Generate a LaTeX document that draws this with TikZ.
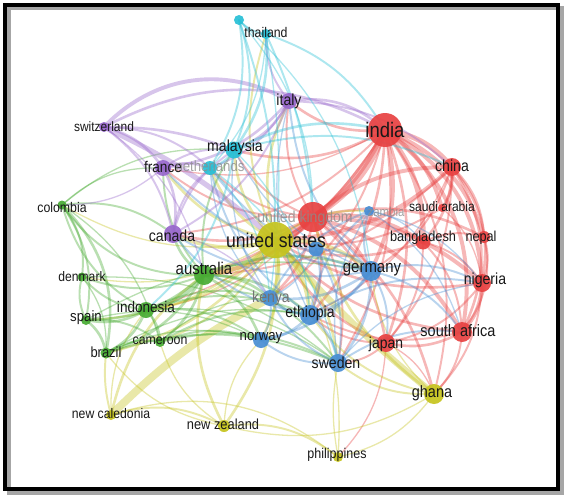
\documentclass[tikz,border=0pt]{standalone}
\usepackage{fontspec}
\newfontfamily\labf[FakeStretch=0.88]{Liberation Sans}
\definecolor{cR}{RGB}{232,66,66}
\definecolor{cG}{RGB}{72,172,52}
\definecolor{cB}{RGB}{72,142,212}
\definecolor{cY}{RGB}{198,196,30}
\definecolor{cP}{RGB}{152,104,204}
\definecolor{cC}{RGB}{40,192,214}
\pgfdeclarelayer{bgl}
\pgfdeclarelayer{edges}
\pgfsetlayers{bgl,edges,main}
\tikzset{
  vn/.style={circle, fill=#1, draw=none, inner sep=0pt, fill opacity=0.92},
  lab/.style={font=\labf\fontsize{#1}{#1}\selectfont, text=black!90, inner sep=0pt},
  faded/.style={text=black!45, text opacity=0.8},
  lnk/.style={draw=#1, draw opacity=0.38, line cap=round},
}
\begin{document}
\begin{tikzpicture}[x=1pt,y=1pt]
\useasboundingbox (0,0) rectangle (569,-500);
\begin{pgfonlayer}{bgl}
\fill[white] (0,0) rectangle (569,-500);
\draw[black!35, line width=4pt] (8.5,-8.5) rectangle (561.5,-492.5);
\draw[black, line width=4pt] (5,-5) rectangle (558,-489);
\end{pgfonlayer}
% nodes
\node[vn=cC, minimum size=10pt] (th2) at (239,-20) {};
\node[vn=cC, minimum size=10pt] (thailand) at (266,-34) {};
\node[vn=cP, minimum size=16pt] (italy) at (289,-101) {};
\node[vn=cR, minimum size=34pt] (india) at (385,-130) {};
\node[vn=cP, minimum size=10pt] (switzerland) at (104,-127) {};
\node[vn=cC, minimum size=17pt] (malaysia) at (234,-150) {};
\node[vn=cR, minimum size=18pt] (china) at (452,-167) {};
\node[vn=cP, minimum size=16pt] (france) at (163,-168) {};
\node[vn=cC, minimum size=14pt] (netherlands) at (210,-168) {};
\node[vn=cG, minimum size=9pt] (colombia) at (62,-205) {};
\node[vn=cR, minimum size=8pt] (saudiarabia) at (442,-208) {};
\node[vn=cR, minimum size=30pt] (uk) at (313,-217) {};
\node[vn=cB, minimum size=10pt] (zambia) at (369,-211) {};
\node[vn=cP, minimum size=18pt] (canada) at (173,-234) {};
\node[vn=cY, minimum size=36pt] (us) at (275,-240) {};
\node[vn=cR, minimum size=15pt] (bangladesh) at (423,-242) {};
\node[vn=cR, minimum size=12pt] (nepal) at (484,-237) {};
\node[vn=cB, minimum size=15pt] (bluex) at (316,-249) {};
\node[vn=cG, minimum size=20pt] (australia) at (204,-275) {};
\node[vn=cB, minimum size=20pt] (germany) at (371,-271) {};
\node[vn=cG, minimum size=9pt] (denmark) at (82,-277) {};
\node[vn=cR, minimum size=18pt] (nigeria) at (482,-283) {};
\node[vn=cB, minimum size=16pt] (kenya) at (270,-298) {};
\node[vn=cG, minimum size=16pt] (indonesia) at (146,-310) {};
\node[vn=cB, minimum size=20pt] (ethiopia) at (310,-315) {};
\node[vn=cG, minimum size=10pt] (spain) at (86,-320) {};
\node[vn=cR, minimum size=20pt] (southafrica) at (462,-332) {};
\node[vn=cB, minimum size=16pt] (norway) at (261,-340) {};
\node[vn=cG, minimum size=10pt] (cameroon) at (160,-342) {};
\node[vn=cR, minimum size=18pt] (japan) at (386,-343) {};
\node[vn=cG, minimum size=11pt] (brazil) at (106,-353) {};
\node[vn=cB, minimum size=18pt] (sweden) at (338,-363) {};
\node[vn=cY, minimum size=20pt] (ghana) at (434,-394) {};
\node[vn=cY, minimum size=10pt] (newcaledonia) at (111,-415) {};
\node[vn=cY, minimum size=12pt] (newzealand) at (224,-426) {};
\node[vn=cY, minimum size=10pt] (philippines) at (338,-457) {};
% edges
\begin{pgfonlayer}{edges}
\foreach \s/\t/\w/\b in {india/uk/5/18, india/us/4/18, india/china/4/20, india/bangladesh/4/20, india/nepal/3/25, india/saudiarabia/3/20, india/nigeria/3/30, india/southafrica/3/32, india/japan/2/20, india/germany/3/20, india/ethiopia/2/20, india/australia/2/20, india/malaysia/2/22, india/italy/2/22, india/sweden/1.5/20, india/canada/1.5/20, india/kenya/1.5/20, india/ghana/1.5/25, india/france/1/20, india/indonesia/1/20,
uk/china/3/20, uk/bangladesh/3/20, uk/nigeria/3/20, uk/southafrica/3/22, uk/us/4/20, uk/australia/3/20, uk/germany/2/20, uk/ethiopia/2/20, uk/japan/2/20, uk/nepal/2/20, uk/kenya/2/20, uk/canada/2/20, uk/ghana/2/20, uk/sweden/1.5/20, uk/netherlands/1.5/20, uk/malaysia/1.5/20, uk/italy/1.5/20, uk/france/1.5/20, uk/indonesia/1/20,
china/us/3/20, china/bangladesh/2/20, china/nigeria/2/25, china/southafrica/2/30, china/saudiarabia/2/20, china/nepal/2/20, china/japan/1.5/20, china/germany/1.5/20, china/australia/1.5/20, china/ethiopia/1/20,
bangladesh/us/2/20, bangladesh/nepal/1.5/20, bangladesh/nigeria/1.5/20, bangladesh/southafrica/1.5/20, bangladesh/japan/1.5/20, saudiarabia/nigeria/1/20, saudiarabia/us/1.5/20, nepal/nigeria/1.5/20, nepal/southafrica/1.5/25, nigeria/southafrica/3/20, nigeria/us/2/20, nigeria/japan/1.5/20, nigeria/ghana/1.5/20, southafrica/us/2/20, southafrica/japan/2/20, southafrica/ghana/1.5/20, southafrica/ethiopia/1.5/20, japan/us/2/20, japan/ethiopia/1.5/20, japan/sweden/1.5/20, japan/philippines/1/20, japan/ghana/1/20}
  \draw[lnk=cR, line width=\w*1.3pt] (\s.center) to[bend left=\b] (\t.center);
\foreach \s/\t/\w/\b in {us/australia/4/20, us/canada/3/20, us/germany/3/20, us/ethiopia/3/20, us/kenya/2/20, us/malaysia/2/20, us/netherlands/2/20, us/france/2/20, us/italy/2/20, us/norway/2/20, us/sweden/2/20, us/indonesia/2/20, us/brazil/2/20, us/newzealand/2/20, us/thailand/1.5/20, us/spain/1.5/20, us/denmark/1/20, us/colombia/1/20, us/cameroon/1.5/20, us/philippines/1/20, us/zambia/1.5/20,
ghana/us/5/5, ghana/uk/2/20, ghana/sweden/1.5/20, ghana/philippines/1/20, ghana/ethiopia/1.5/20, ghana/germany/1/20, ghana/newzealand/1/22,
newcaledonia/kenya/6/8, newcaledonia/australia/2/20, newcaledonia/brazil/1.5/10, newcaledonia/newzealand/1.5/22, newcaledonia/indonesia/1/20, newcaledonia/philippines/1/28,
newzealand/australia/2/20, newzealand/norway/1/20, newzealand/philippines/1.5/22, newzealand/cameroon/1/20, newzealand/brazil/1/20, philippines/sweden/1/10}
  \draw[lnk=cY, line width=\w*1.3pt] (\s.center) to[bend left=\b] (\t.center);
\foreach \s/\t/\w/\b in {australia/canada/2/20, australia/indonesia/3/20, australia/brazil/2/20, australia/spain/2/20, australia/denmark/1.5/20, australia/colombia/1.5/28, australia/cameroon/2/20, australia/germany/2/20, australia/ethiopia/2/20, australia/kenya/2/20, australia/norway/2/20, australia/sweden/1.5/20, australia/malaysia/1.5/20, australia/france/1.5/20,
indonesia/brazil/2/20, indonesia/spain/2/20, indonesia/cameroon/2/20, indonesia/denmark/1.5/20, indonesia/colombia/1.5/22, indonesia/ethiopia/1.5/20, indonesia/kenya/1.5/20, indonesia/norway/1.5/20, indonesia/sweden/1/20,
colombia/brazil/2/28, colombia/spain/1.5/22, colombia/denmark/1.5/22, colombia/canada/1.5/22, colombia/cameroon/1/20, colombia/france/1/22, colombia/malaysia/1/22,
spain/brazil/2/20, spain/denmark/1.5/20, spain/cameroon/1.5/20, spain/germany/1/20, spain/norway/1/20, brazil/cameroon/1.5/20, brazil/sweden/1.5/20, brazil/ethiopia/1/20, brazil/norway/1/20,
denmark/brazil/1/20, denmark/sweden/1/20, cameroon/ethiopia/1.5/20, cameroon/norway/1.5/20, cameroon/sweden/1.5/20, cameroon/kenya/1/20}
  \draw[lnk=cG, line width=\w*1.3pt] (\s.center) to[bend left=\b] (\t.center);
\foreach \s/\t/\w/\b in {germany/ethiopia/2/20, germany/sweden/2/20, germany/kenya/2/20, germany/norway/2/20, germany/zambia/1.5/20, germany/japan/1.5/20, germany/nigeria/1.5/20, germany/southafrica/1.5/20, germany/italy/1.5/20, germany/france/1.5/20, germany/netherlands/1.5/20, germany/canada/1.5/20, germany/malaysia/1/20,
ethiopia/kenya/2/20, ethiopia/sweden/2/20, ethiopia/norway/2/20, ethiopia/zambia/1.5/20, ethiopia/netherlands/1.5/20, ethiopia/canada/1.5/20, ethiopia/nigeria/1.5/20, ethiopia/italy/1/20,
sweden/norway/1.5/20, sweden/kenya/1.5/20, sweden/zambia/1/20, sweden/southafrica/1.5/20, sweden/nigeria/1/20, kenya/norway/1.5/20, kenya/zambia/1.5/20, kenya/netherlands/1/20, kenya/malaysia/1/20,
bluex/germany/1.5/20, bluex/ethiopia/1.5/20, bluex/sweden/1.5/20, bluex/kenya/1/20, zambia/nigeria/1/20, zambia/southafrica/1/20, zambia/bangladesh/1/20}
  \draw[lnk=cB, line width=\w*1.3pt] (\s.center) to[bend left=\b] (\t.center);
\foreach \s/\t/\w/\b in {switzerland/italy/3/38, switzerland/india/2/28, switzerland/us/4/8, switzerland/france/2/20, switzerland/canada/1.5/20, switzerland/netherlands/1.5/20, switzerland/australia/1/20, switzerland/malaysia/2/10,
italy/france/2/20, italy/canada/1.5/20, italy/malaysia/2/20, italy/thailand/1.5/20, italy/netherlands/1.5/20, italy/china/1.5/20, italy/india/2/25,
france/canada/2/20, france/netherlands/2/20, france/malaysia/1.5/20, france/colombia/1/20, canada/netherlands/1.5/20, canada/malaysia/1.5/20, canada/kenya/1/20}
  \draw[lnk=cP, line width=\w*1.3pt] (\s.center) to[bend left=\b] (\t.center);
\foreach \s/\t/\w/\b in {thailand/malaysia/2/20, thailand/th2/1.5/20, th2/malaysia/1.5/20, th2/us/1.5/10, th2/uk/1/20, thailand/india/1.5/20, thailand/uk/1.5/10, thailand/netherlands/1/20, thailand/kenya/1/8, th2/netherlands/1.5/20, th2/germany/1/20,
malaysia/netherlands/2/20, malaysia/india/2/20, malaysia/indonesia/1.5/20, malaysia/china/1.5/20, malaysia/ethiopia/1/20, netherlands/sweden/1/20, netherlands/kenya/1/20}
  \draw[lnk=cC, line width=\w*1.3pt] (\s.center) to[bend left=\b] (\t.center);
\end{pgfonlayer}
% labels
\node[lab=14] (t-thailand) at (266,-32) {thailand};
\node[lab=16] (t-italy) at (289,-101) {italy};
\node[lab=21] (t-india) at (385,-130) {india};
\node[lab=13.6] (t-switzerland) at (104,-127) {switzerland};
\node[lab=16] (t-malaysia) at (235,-147) {malaysia};
\node[lab=16] (t-china) at (452,-166) {china};
\node[lab=15.5] (t-france) at (163,-167) {france};
\node[lab=15, faded] (t-netherlands) at (210,-166) {netherlands};
\node[lab=14] (t-colombia) at (62,-207) {colombia};
\node[lab=13.7] (t-saudiarabia) at (442,-207) {saudi arabia};
\node[lab=16, faded] (t-uk) at (305,-218) {united kingdom};
\node[lab=13, faded] (t-zambia) at (386,-212) {zambia};
\node[lab=16] (t-canada) at (172,-236) {canada};
\node[lab=20] (t-us) at (276,-240) {united states};
\node[lab=14.5] (t-bangladesh) at (423,-238) {bangladesh};
\node[lab=14.4] (t-nepal) at (481,-238) {nepal};
\node[lab=17] (t-australia) at (204,-268) {australia};
\node[lab=17] (t-germany) at (372,-270) {germany};
\node[lab=13.8] (t-denmark) at (82,-277) {denmark};
\node[lab=16] (t-nigeria) at (485,-280) {nigeria};
\node[lab=16, text=black!55] (t-kenya) at (271,-298) {kenya};
\node[lab=15.4] (t-indonesia) at (146,-307) {indonesia};
\node[lab=16] (t-ethiopia) at (310,-313) {ethiopia};
\node[lab=15] (t-spain) at (86,-318) {spain};
\node[lab=16.5] (t-southafrica) at (458,-331) {south africa};
\node[lab=15] (t-norway) at (261,-338) {norway};
\node[lab=14] (t-cameroon) at (160,-341) {cameroon};
\node[lab=15.8] (t-japan) at (386,-344) {japan};
\node[lab=14.7] (t-brazil) at (106,-352) {brazil};
\node[lab=16] (t-sweden) at (336,-363) {sweden};
\node[lab=16.4] (t-ghana) at (432,-393) {ghana};
\node[lab=13.9] (t-newcaledonia) at (111,-414) {new caledonia};
\node[lab=14.6] (t-newzealand) at (223,-424) {new zealand};
\node[lab=14.2] (t-philippines) at (337,-455) {philippines};
\end{tikzpicture}
\end{document}
